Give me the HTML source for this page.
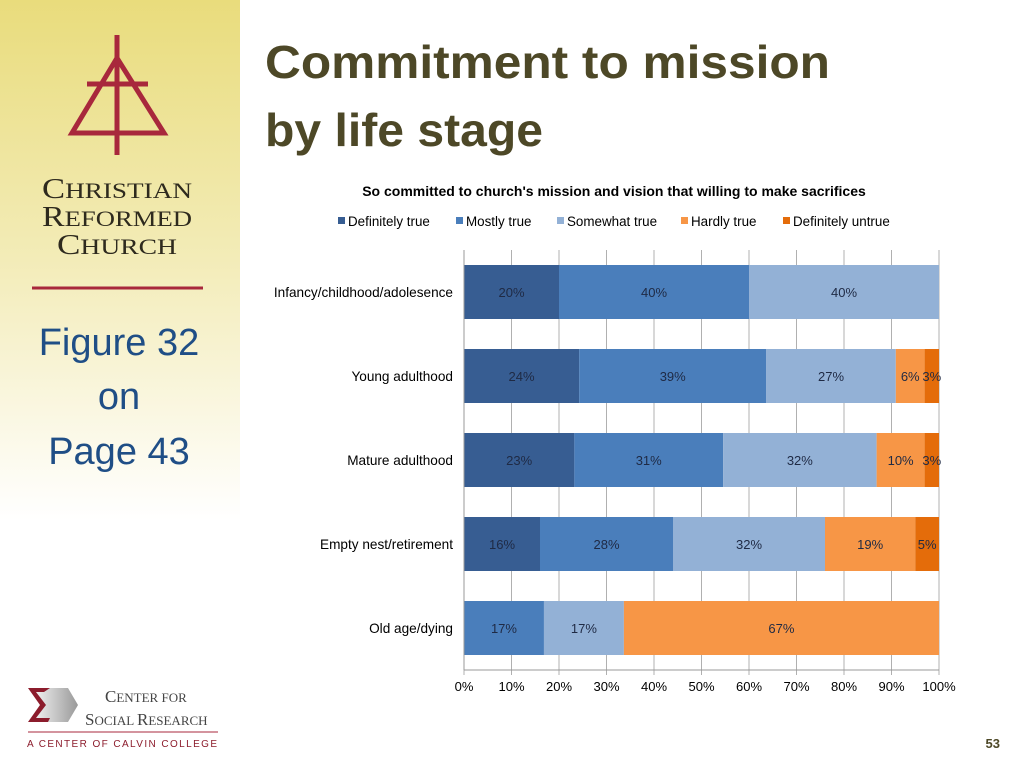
<!DOCTYPE html>
<html><head><meta charset="utf-8"><style>
html,body{margin:0;padding:0;background:#fff;}
svg{display:block;font-family:"Liberation Sans",sans-serif;}
</style></head><body>
<svg id="page" width="1024" height="768" viewBox="0 0 1024 768">
<defs>
<linearGradient id="sb" x1="0" y1="0" x2="0" y2="1">
<stop offset="0" stop-color="#e9dc7c"/><stop offset="0.5" stop-color="#f3ecb8"/><stop offset="1" stop-color="#ffffff"/>
</linearGradient>
<linearGradient id="sig" x1="0" y1="0" x2="1" y2="0"><stop offset="0" stop-color="#fff"/><stop offset="1" stop-color="#999"/></linearGradient>
</defs>
<rect x="0" y="0" width="240" height="520" fill="url(#sb)"/>
<g stroke="#a8283c" stroke-width="5" fill="none">
<line x1="117" y1="35" x2="117" y2="155"/>
<line x1="87" y1="84" x2="148" y2="84"/>
<polygon points="117,58 72,133 164,133" stroke-width="5"/>
</g>
<g font-family="Liberation Serif,serif" fill="#2e2a1e" text-anchor="middle">
<text x="117" y="198" font-size="28" textLength="150" lengthAdjust="spacingAndGlyphs">C<tspan font-size="22">HRISTIAN</tspan></text>
<text x="117" y="226" font-size="28" textLength="150" lengthAdjust="spacingAndGlyphs">R<tspan font-size="22">EFORMED</tspan></text>
<text x="117" y="254" font-size="28" textLength="120" lengthAdjust="spacingAndGlyphs">C<tspan font-size="22">HURCH</tspan></text>
</g>
<line x1="32" y1="288" x2="203" y2="288" stroke="#a8283c" stroke-width="3"/>
<g fill="#1f4e86" font-size="38" text-anchor="middle">
<text x="119" y="355">Figure 32</text>
<text x="119" y="409">on</text>
<text x="119" y="464">Page 43</text>
</g>
<g>
<polygon points="28,688 68,688 78,705 68,722 28,722 44,705" fill="url(#sig)"/>
<polygon points="28,688 50,688 44,692 36,692 46,705 36,718 50,718 48,722 28,722 40,705" fill="#8c1c2c"/>
<text x="105" y="702" font-family="Liberation Serif,serif" font-size="17" fill="#444">C<tspan font-size="13">ENTER FOR</tspan></text>
<text x="85" y="725" font-family="Liberation Serif,serif" font-size="17" fill="#444">S<tspan font-size="13">OCIAL </tspan>R<tspan font-size="13">ESEARCH</tspan></text>
<line x1="28" y1="732" x2="218" y2="732" stroke="#a8283c" stroke-width="1"/>
<text x="27" y="747" font-size="10" fill="#8c1c2c" textLength="190">A CENTER OF CALVIN COLLEGE</text>
</g>
<g fill="#4d4827" font-weight="bold" font-size="46">
<text x="265" y="78" textLength="565" lengthAdjust="spacingAndGlyphs">Commitment to mission</text>
<text x="265" y="146" textLength="278" lengthAdjust="spacingAndGlyphs">by life stage</text>
</g>
<text x="1000" y="748" font-size="13" font-weight="bold" fill="#4d4827" text-anchor="end">53</text>
<text x="614" y="196" font-size="14" font-weight="bold" fill="#000" text-anchor="middle">So committed to church's mission and vision that willing to make sacrifices</text>
<g id="legend"></g>
<g id="grid"></g>
<g id="bars"></g>
<g id="axes"></g>
</svg>
<script>
const categories = ["Infancy/childhood/adolesence","Young adulthood","Mature adulthood","Empty nest/retirement","Old age/dying"];
const seriesNames = ["Definitely true","Mostly true","Somewhat true","Hardly true","Definitely untrue"];
const definitelyTrue = [20,24,23,16,0];
const mostlyTrue = [40,39,31,28,17];
const somewhatTrue = [40,27,32,32,17];
const hardlyTrue = [0,6,10,19,67];
const definitelyUntrue = [0,3,3,5,0];
const xTicks = [0,10,20,30,40,50,60,70,80,90,100];

const series = [definitelyTrue,mostlyTrue,somewhatTrue,hardlyTrue,definitelyUntrue];
const colors = ["#375d92","#4a7ebb","#93b1d6","#f79646","#e46c0a"];
const NS="http://www.w3.org/2000/svg";
const X0=464,X1=939,YT=250,YB=670;
const xs=v=>X0+(X1-X0)*v/100;
const band=(YB-YT)/categories.length;
const yc=i=>YT+band*(i+0.5);
const BH=54;
function mk(tag,attrs,parent){const e=document.createElementNS(NS,tag);for(const k in attrs)e.setAttribute(k,attrs[k]);parent.appendChild(e);return e;}
const grid=document.getElementById('grid'),bars=document.getElementById('bars'),axes=document.getElementById('axes'),legend=document.getElementById('legend');
xTicks.forEach(t=>{
  const l=mk('line',{x1:xs(t),x2:xs(t),y1:YT,y2:YB+5,stroke:'#b0b0b0','stroke-width':1},grid);
  
  
  const tx=mk('text',{x:xs(t),y:YB+21,'font-size':13,'text-anchor':'middle',fill:'#000'},axes);
  tx.textContent=t+'%';
  
  
});
mk('line',{x1:X0,x2:X0,y1:YT,y2:YB,stroke:'#999'},axes);
mk('line',{x1:X0,x2:X1,y1:YB,y2:YB,stroke:'#999'},axes);
categories.forEach((c,i)=>{
  const tx=mk('text',{x:453,y:yc(i)+5,'font-size':13.6,'text-anchor':'end',fill:'#000'},axes);
  tx.textContent=c;
  
  
  let total=0;series.forEach(s=>total+=s[i]);
  let acc=0;
  series.forEach((s,j)=>{
    const v=s[i];if(!v)return;
    const a=xs(acc/total*100),b=xs((acc+v)/total*100);acc+=v;
    const r=mk('rect',{x:a,y:yc(i)-BH/2,width:b-a,height:BH,fill:colors[j]},bars);
    
    
    const lt=mk('text',{x:(a+b)/2,y:yc(i)+5,'font-size':13,'text-anchor':'middle',fill:'#1f2a44'},bars);
    lt.textContent=v+'%';
    
    
  });
});
const lx=[338,456,557,681,783];
seriesNames.forEach((n,j)=>{
  mk('rect',{x:lx[j],y:217,width:7,height:7,fill:colors[j]},legend);
  const t=mk('text',{x:lx[j]+10,y:226,'font-size':13.4,fill:'#000'},legend);
  t.textContent=n;
  
  
});
</script>
</body></html>
